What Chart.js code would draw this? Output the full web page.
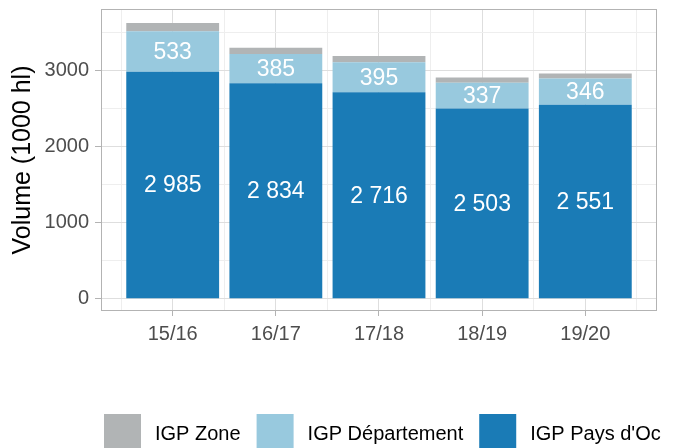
<!DOCTYPE html>
<html>
<head>
<meta charset="utf-8">
<script src="https://cdn.jsdelivr.net/npm/chart.js@4.4.1/dist/chart.umd.min.js"></script>
<style>
  html, body { margin: 0; padding: 0; background: #fff; }
</style>
</head>
<body>
<canvas id="volumeChart" width="680" height="448"></canvas>
<script>
// données (1000 hl)
const campagnes = ['15/16', '16/17', '17/18', '18/19', '19/20'];
const paysOc = [2985, 2834, 2716, 2503, 2551];
const departement = [533, 385, 395, 337, 346];
const zone = [110, 84, 82, 72, 67];
const yTicks = [0, 1000, 2000, 3000];

const FONT = '"Liberation Sans", Arial, sans-serif';
const GRID_MAJOR = '#dedede';
const GRID_MINOR = '#eeeeee';

function toPoints(values) {
    return values.map((v, i) => ({ x: i + 1, y: v }));
}

function formatNum(v) {
    return String(v).replace(/\B(?=(\d{3})+(?!\d))/g, ' ');
}

function isMajorX(c) {
    return c.tick ? Number.isInteger(c.tick.value) : true;
}
function isMajorY(c) {
    return c.tick ? yTicks.includes(c.tick.value) : true;
}

// étiquettes blanches au centre des segments
const barLabels = {
    id: 'barLabels',
    afterDatasetsDraw(chart) {
        const ctx = chart.ctx;
        ctx.save();
        ctx.font = '23px ' + FONT;
        ctx.fillStyle = '#ffffff';
        ctx.textAlign = 'center';
        ctx.textBaseline = 'middle';
        chart.data.datasets.forEach((ds, i) => {
            if (!ds.showLabel) return;
            chart.getDatasetMeta(i).data.forEach((bar, j) => {
                ctx.fillText(formatNum(ds.data[j].y), bar.x, (bar.y + bar.base) / 2 + 1);
            });
        });
        ctx.restore();
    }
};

// cadre du panneau
const panelBorder = {
    id: 'panelBorder',
    afterDatasetsDraw(chart) {
        const a = chart.chartArea;
        const ctx = chart.ctx;
        ctx.save();
        ctx.strokeStyle = '#b3b3b3';
        ctx.lineWidth = 1;
        ctx.strokeRect(Math.round(a.left) + 0.5, Math.round(a.top) + 0.5,
            Math.round(a.right - a.left) - 1, Math.round(a.bottom - a.top) - 1);
        ctx.restore();
    }
};

// légende en bas, ordre inversé
const legendBas = {
    id: 'legendBas',
    afterDraw(chart) {
        const ctx = chart.ctx;
        ctx.save();
        ctx.font = '20px ' + FONT;
        ctx.textBaseline = 'middle';
        ctx.textAlign = 'left';
        let x = 104;
        const y = 414;
        [...chart.data.datasets].reverse().forEach(ds => {
            ctx.fillStyle = ds.backgroundColor;
            ctx.fillRect(x, y, 37, 37);
            ctx.fillStyle = '#000000';
            ctx.fillText(ds.label, x + 51, y + 20);
            x += 51 + ctx.measureText(ds.label).width + 16;
        });
        ctx.restore();
    }
};

const ctx = document.getElementById('volumeChart').getContext('2d');
const chart = new Chart(ctx, {
    type: 'bar',
    data: {
        datasets: [
            {
                label: "IGP Pays d'Oc",
                data: toPoints(paysOc),
                backgroundColor: '#1a7bb6',
                showLabel: true
            },
            {
                label: 'IGP Département',
                data: toPoints(departement),
                backgroundColor: '#98c9de',
                showLabel: true
            },
            {
                label: 'IGP Zone',
                data: toPoints(zone),
                backgroundColor: '#b1b4b5',
                showLabel: false
            }
        ]
    },
    options: {
        responsive: false,
        animation: false,
        layout: { padding: { left: 0, right: 23, top: 9, bottom: 97 } },
        datasets: {
            // les ticks mineurs (pas de 0.5) fixent l'écart minimal, d'où 1.8 -> 0.9 catégorie
            bar: { barPercentage: 1.8, categoryPercentage: 1, borderWidth: 0 }
        },
        plugins: {
            legend: { display: false },
            tooltip: { enabled: false }
        },
        scales: {
            x: {
                type: 'linear',
                stacked: true,
                offset: false,
                min: 0.305,
                max: 5.695,
                afterBuildTicks(scale) {
                    const t = [];
                    for (let i = 0; i <= campagnes.length; i++) {
                        t.push({ value: i + 0.5 });
                        if (i < campagnes.length) t.push({ value: i + 1 });
                    }
                    scale.ticks = t;
                },
                afterFit(scale) {
                    scale.height = 40;
                    scale.paddingLeft = 0;
                    scale.paddingRight = 0;
                },
                border: { display: false },
                grid: {
                    offset: false,
                    color: c => isMajorX(c) ? GRID_MAJOR : GRID_MINOR,
                    tickColor: c => isMajorX(c) ? '#b3b3b3' : 'rgba(0,0,0,0)',
                    tickLength: 5
                },
                ticks: {
                    autoSkip: false,
                    maxRotation: 0,
                    padding: 6,
                    color: '#4d4d4d',
                    font: { family: FONT, size: 20 },
                    callback: v => Number.isInteger(v) ? campagnes[v - 1] : ''
                }
            },
            y: {
                stacked: true,
                min: -162,
                max: 3812,
                afterBuildTicks(scale) {
                    const t = [];
                    yTicks.forEach(v => {
                        t.push({ value: v });
                        t.push({ value: v + 500 });
                    });
                    scale.ticks = t;
                },
                afterFit(scale) {
                    scale.width = 101;
                    scale.paddingTop = 0;
                    scale.paddingBottom = 0;
                },
                border: { display: false },
                grid: {
                    color: c => isMajorY(c) ? GRID_MAJOR : GRID_MINOR,
                    tickColor: c => isMajorY(c) ? '#b3b3b3' : 'rgba(0,0,0,0)',
                    tickLength: 6
                },
                ticks: {
                    padding: 6,
                    color: '#4d4d4d',
                    font: { family: FONT, size: 20 },
                    callback: v => yTicks.includes(v) ? String(v) : ''
                },
                title: {
                    display: true,
                    text: 'Volume (1000 hl)',
                    color: '#000000',
                    font: { family: FONT, size: 25 },
                    padding: { top: 8, bottom: 0 }
                }
            }
        }
    },
    plugins: [barLabels, panelBorder, legendBas]
});
</script>
</body>
</html>
